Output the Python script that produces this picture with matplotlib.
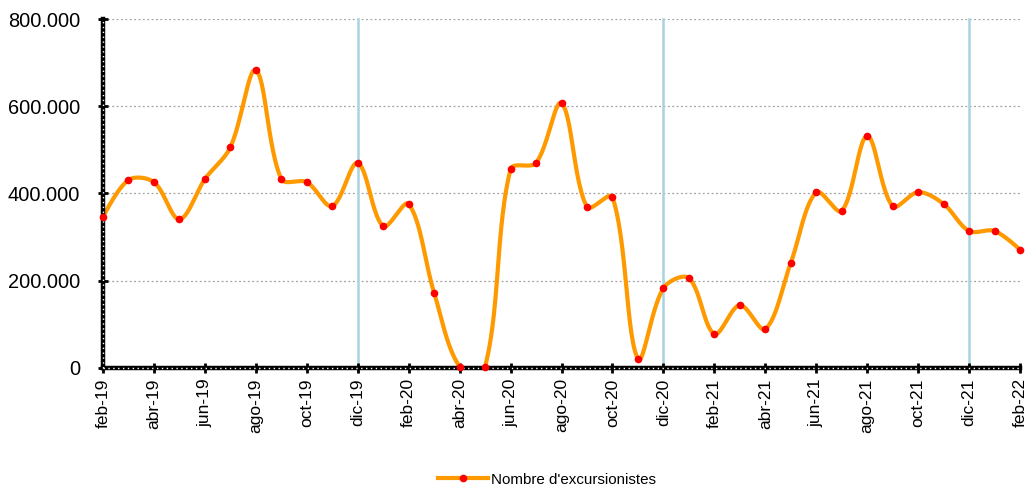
import numpy as np
import matplotlib
matplotlib.use("Agg")
import matplotlib.pyplot as plt
from matplotlib.ticker import FuncFormatter

plt.rcParams['font.family'] = ['Liberation Sans', 'DejaVu Sans']

# monthly data feb-19 .. feb-22
months = ['feb-19', 'mar-19', 'abr-19', 'may-19', 'jun-19', 'jul-19', 'ago-19', 'sep-19',
          'oct-19', 'nov-19', 'dic-19', 'ene-20', 'feb-20', 'mar-20', 'abr-20', 'may-20',
          'jun-20', 'jul-20', 'ago-20', 'sep-20', 'oct-20', 'nov-20', 'dic-20', 'ene-21',
          'feb-21', 'mar-21', 'abr-21', 'may-21', 'jun-21', 'jul-21', 'ago-21', 'sep-21',
          'oct-21', 'nov-21', 'dic-21', 'ene-22', 'feb-22']
excursionistes = [346000, 431000, 426000, 341000, 433000, 506000, 683000, 433000,
                  426000, 371000, 470000, 325000, 376000, 172000, 3000, 3000,
                  456000, 470000, 607000, 369000, 392000, 21000, 183000, 206000,
                  78000, 144000, 89000, 241000, 403000, 360000, 532000, 371000,
                  403000, 376000, 314000, 314000, 271000]
year_marks = ['dic-19', 'dic-20', 'dic-21']
y_ticks = [0, 200000, 400000, 600000, 800000]


def smooth(x, y, kx, ky, n=30):
    # bezier curve through the points, tangents weighted by segment length
    # on screen (close to excel's "smoothed line")
    P = np.column_stack([np.asarray(x, float), np.asarray(y, float)])
    S = np.array([kx, ky])
    cin = P.copy()
    cout = P.copy()
    for i in range(1, len(P) - 1):
        d0 = np.linalg.norm((P[i] - P[i - 1]) * S)
        d1 = np.linalg.norm((P[i + 1] - P[i]) * S)
        T = P[i + 1] - P[i - 1]
        cin[i] = P[i] - T * d0 / (d0 + d1) / 3
        cout[i] = P[i] + T * d1 / (d0 + d1) / 3
    t = np.linspace(0, 1, n)[:, None]
    pts = []
    for i in range(len(P) - 1):
        a, b, c, d = P[i], cout[i], cin[i + 1], P[i + 1]
        seg = (1 - t)**3 * a + 3 * (1 - t)**2 * t * b + 3 * (1 - t) * t**2 * c + t**3 * d
        pts.append(seg if i == 0 else seg[1:])
    pts = np.vstack(pts)
    return pts[:, 0], pts[:, 1]


x = np.arange(len(months))
fig = plt.figure(figsize=(10.32, 4.88), dpi=100)
ax = fig.add_axes([0.0998, 0.246, 0.8886, 0.715])

for ym in year_marks:
    ax.axvline(months.index(ym), ymin=-0.012, ymax=1, color='#a8d4e0', lw=1.8, zorder=1, clip_on=False)

for yt in y_ticks[1:]:
    ax.axhline(yt, color='#a0a0a0', lw=0.9, ls=(0, (1.5, 2)), zorder=0)

sx, sy = smooth(x, excursionistes, 25.47, 349 / 800000)
ax.plot(sx, sy, color='#ff9900', lw=3, zorder=3, solid_capstyle='round')
ax.plot(x, excursionistes, 'o', color='#ff0000', ms=4.5, zorder=7, clip_on=False)

# handle for the legend
ax.plot([], [], color='#ff9900', lw=3, marker='o', mfc='#ff0000', mec='#ff0000', ms=4.5,
        label="Nombre d'excursionistes")

ax.set_xlim(0, len(months) - 1)
ax.set_ylim(0, 800000)
ax.set_xticks(x[::2])
ax.set_xticklabels(months[::2], rotation=90, fontsize=12.5)
ax.set_yticks(y_ticks)
ax.yaxis.set_major_formatter(FuncFormatter(lambda v, p: '0' if v == 0 else f'{int(v):,}'.replace(',', '.')))
ax.tick_params(axis='y', labelsize=14.4, direction='inout', length=7, width=2, pad=13)
ax.tick_params(axis='x', direction='inout', length=7, width=2, pad=4)

for s in ['top', 'right']:
    ax.spines[s].set_visible(False)
for s in ['left', 'bottom']:
    ax.spines[s].set_linewidth(3.2)
    ax.spines[s].set_zorder(5)
ax.plot([0, 0], [0, 1], transform=ax.transAxes, color='white', lw=1, ls=(0, (1, 2.5)),
        clip_on=False, zorder=6)
ax.plot([0, 1], [0, 0], transform=ax.transAxes, color='white', lw=1, ls=(0, (1, 2.5)),
        clip_on=False, zorder=6)

fig.legend(loc='lower center', bbox_to_anchor=(0.53, -0.025), frameon=False, fontsize=10.9,
           handlelength=3.3, handletextpad=0.2)

fig.savefig('out.png', dpi=100)
